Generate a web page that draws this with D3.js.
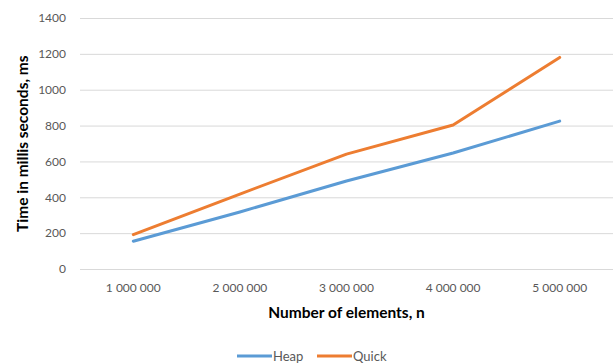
<!DOCTYPE html>
<html>
<head>
<meta charset="utf-8">
<script src="https://cdn.jsdelivr.net/npm/d3@7"></script>
<style>
  html, body { margin: 0; padding: 0; background: #fff; }
  svg { display: block; font-family: Lato, "Open Sans", sans-serif; }
</style>
</head>
<body>
<svg id="chart" width="613" height="363"></svg>
<script>
// Sorting benchmark: run time by input size
const categories = ["1 000 000", "2 000 000", "3 000 000", "4 000 000", "5 000 000"];
const heapTimes = [155, 318, 491, 647, 825];
const quickTimes = [192, 418, 641, 803, 1180];
const yTicks = [0, 200, 400, 600, 800, 1000, 1200, 1400];
const seriesNames = ["Heap", "Quick"];
const seriesColors = ["#5B9BD5", "#ED7D31"];

const series = [
  { name: seriesNames[0], values: heapTimes, color: seriesColors[0] },
  { name: seriesNames[1], values: quickTimes, color: seriesColors[1] }
];

const svg = d3.select("#chart");
const plot = { left: 80, right: 613, top: 18, bottom: 269 };

const x = d3.scaleBand().domain(categories).range([plot.left, plot.right]);
const y = d3.scaleLinear().domain([0, 1400]).range([plot.bottom, plot.top]);

// Horizontal gridlines
svg.append("g")
  .selectAll("line")
  .data(yTicks)
  .join("line")
  .attr("x1", plot.left)
  .attr("x2", plot.right)
  .attr("y1", d => y(d) + 0.5)
  .attr("y2", d => y(d) + 0.5)
  .attr("stroke", "#d9d9d9")
  .attr("stroke-width", 1);

// Y axis labels
const yAxis = d3.axisLeft(y).tickValues(yTicks).tickFormat(d3.format("d")).tickSize(0).tickPadding(0);
const yg = svg.append("g")
  .attr("transform", `translate(${plot.left - 14},0)`)
  .call(yAxis);
yg.select(".domain").remove();
yg.selectAll("text")
  .attr("fill", "#595959")
  .style("font-size", "12px")
  .style("font-family", "Lato, sans-serif");

// X axis labels
const xAxis = d3.axisBottom(x).tickSize(0).tickPadding(0);
const xg = svg.append("g")
  .attr("transform", `translate(0,${plot.bottom + 14})`)
  .call(xAxis);
xg.select(".domain").remove();
xg.selectAll("text")
  .attr("fill", "#595959")
  .style("font-size", "12px")
  .style("font-family", "Lato, sans-serif");

// Series lines
const line = d3.line()
  .x((d, i) => x(categories[i]) + x.bandwidth() / 2)
  .y(d => y(d));

svg.append("g")
  .selectAll("path")
  .data(series)
  .join("path")
  .attr("d", d => line(d.values))
  .attr("fill", "none")
  .attr("stroke", d => d.color)
  .attr("stroke-width", 3)
  .attr("stroke-linejoin", "round")
  .attr("stroke-linecap", "round");

// Axis titles
svg.append("text")
  .attr("x", (plot.left + plot.right) / 2)
  .attr("y", 318)
  .attr("text-anchor", "middle")
  .attr("fill", "#000")
  .style("font-size", "15.5px")
  .style("font-weight", "bold")
  .text("Number of elements, n");

svg.append("text")
  .attr("transform", "translate(28,232) rotate(-90)")
  .attr("text-anchor", "start")
  .attr("fill", "#000")
  .style("font-size", "15.5px")
  .style("font-weight", "bold")
  .text("Time in millis seconds, ms");

// Legend
const legend = svg.append("g").attr("transform", "translate(237,356)");
const legendOffsets = [0, 80];
series.forEach((s, i) => {
  const g = legend.append("g").attr("transform", `translate(${legendOffsets[i]},0)`);
  g.append("line")
    .attr("x1", 0).attr("x2", 35)
    .attr("y1", 0).attr("y2", 0)
    .attr("stroke", s.color)
    .attr("stroke-width", 3);
  g.append("text")
    .attr("x", 36)
    .attr("y", 4.5)
    .attr("fill", "#595959")
    .style("font-size", "13px")
    .text(s.name);
});
</script>
</body>
</html>
